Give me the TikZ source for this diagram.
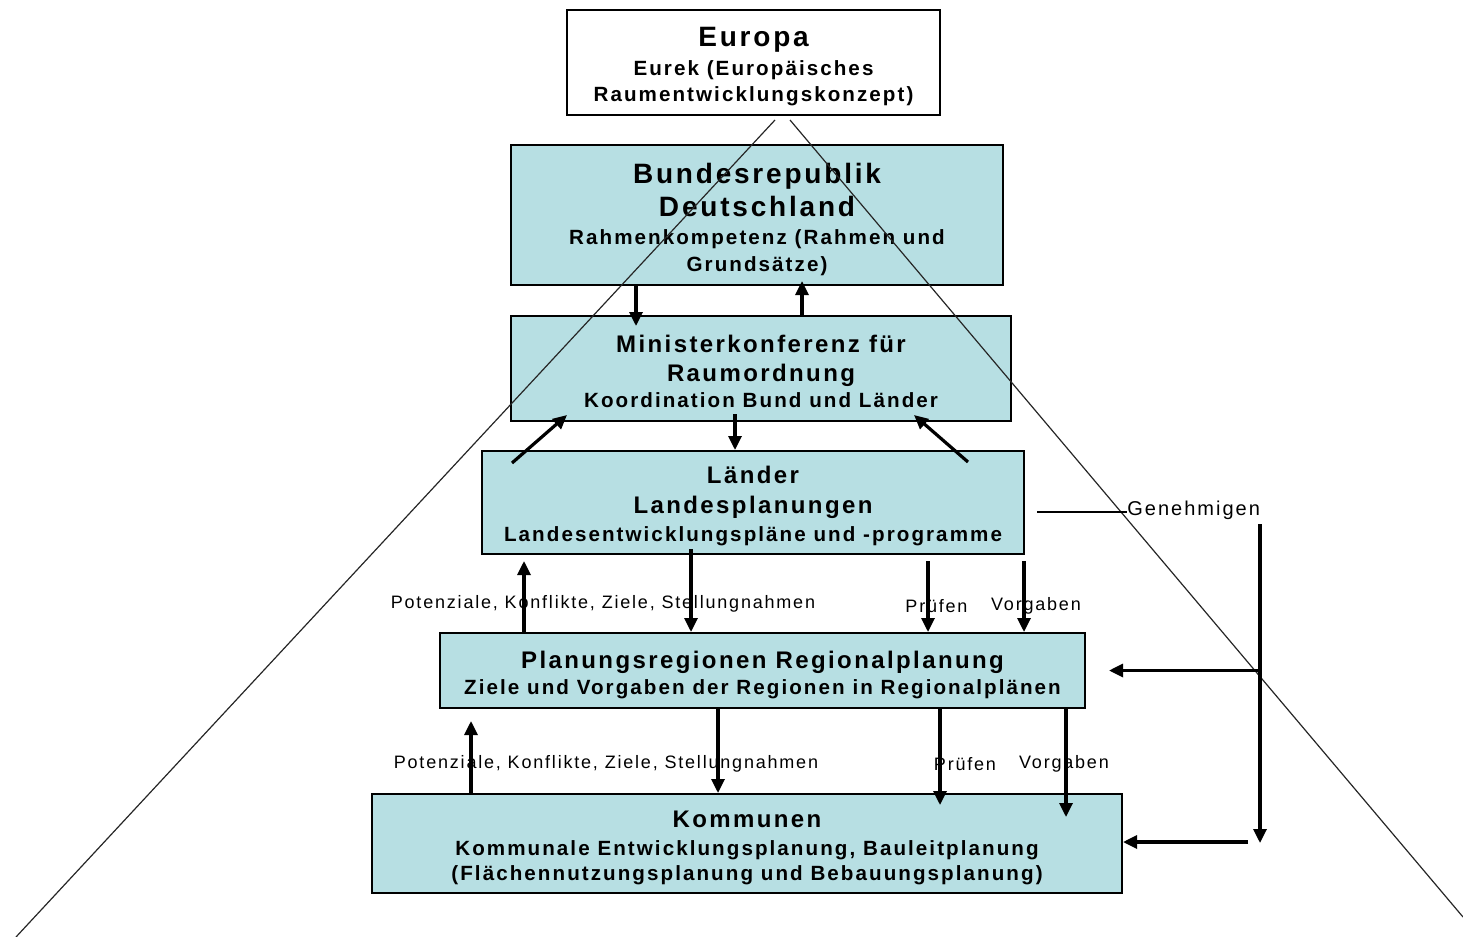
\documentclass[tikz,border=0pt]{standalone}
\usepackage{fontspec}
\setmainfont{Liberation Sans}[LetterSpace=10]
\usetikzlibrary{arrows.meta}
\definecolor{boxfill}{RGB}{183,223,227}
\newcommand\ttlA{\fontsize{14}{16.5}\selectfont\bfseries}
\newcommand\ttlB{\fontsize{12}{14.5}\selectfont\bfseries}
\newcommand\subt{\fontsize{10.3}{13.5}\selectfont\bfseries}
\newcommand\lstrut[1]{\vrule width 0pt height #1 depth 3pt\relax}
\newcommand\boxfont{\fontsize{10}{0pt}\selectfont\lineskip=0pt\relax\lineskiplimit=0pt\relax}
\begin{document}
\begin{tikzpicture}[x=0.5pt,y=-0.5pt,
  box/.style={draw=black, line width=1pt, fill=boxfill, inner sep=0pt, align=center, text=black,
    font=\boxfont},
  arr/.style={line width=1.6pt, -{Triangle[length=7pt,width=6.5pt]}},
  pyr/.style={line width=0.6pt, draw=black!85},
  lbl/.style={font=\fontsize{9}{11}\selectfont, inner sep=0pt, text=black}]
\useasboundingbox (0,0) rectangle (1463,937);

% boxes
\node[box, fill=white, minimum width=186.5pt, minimum height=52.5pt] (eu) at (753.5,62.5)
  {\lstrut{14.5pt}\ttlA Europa\\\lstrut{11.5pt}\subt Eurek (Europäisches\\\lstrut{10pt}\subt Raumentwicklungskonzept)};
\node[box, minimum width=246pt, minimum height=70pt] (bund) at (757,215)
  {\lstrut{15.5pt}\ttlA Bundesrepublik\\\lstrut{13.5pt}\ttlA Deutschland\\\lstrut{11pt}\subt Rahmenkompetenz (Rahmen und\\\lstrut{10.5pt}\subt Grundsätze)};
\node[box, minimum width=250pt, minimum height=52.5pt] (min) at (761,368.5)
  {\lstrut{14pt}\ttlB Ministerkonferenz für\\\lstrut{11.5pt}\ttlB Raumordnung\\\lstrut{10pt}\subt Koordination Bund und Länder};
\node[box, minimum width=271pt, minimum height=51.5pt] (lae) at (753,502.5)
  {\lstrut{13pt}\ttlB Länder\\\lstrut{12pt}\ttlB Landesplanungen\\\lstrut{11pt}\subt Landesentwicklungspläne und -programme};
\node[box, minimum width=322.5pt, minimum height=37.5pt] (pla) at (762.5,670.5)
  {\lstrut{14pt}\ttlB Planungsregionen Regionalplanung\\\lstrut{10pt}\subt Ziele und Vorgaben der Regionen in Regionalplänen};
\node[box, minimum width=375pt, minimum height=49.5pt] (kom) at (747,843.5)
  {\lstrut{13pt}\ttlB Kommunen\\\lstrut{11pt}\subt Kommunale Entwicklungsplanung, Bauleitplanung\\\lstrut{9.5pt}\subt (Flächennutzungsplanung und Bebauungsplanung)};

% pyramid lines
\coordinate (pl) at (775,120);
\coordinate (pr) at (790,120);
\coordinate (bl) at (16,937);
\coordinate (br) at (1463,917);
\draw[pyr] (pl) -- (bl);
\draw[pyr] (pr) -- (br);

% labels
\node[lbl] (pot1) at (603,604) {Potenziale, Konflikte, Ziele, Stellungnahmen};
\node[lbl] (pr1) at (936.5,606) {Prüfen};
\node[lbl] (vo1) at (1036,606) {Vorgaben};
\node[lbl] (pot2) at (606,764) {Potenziale, Konflikte, Ziele, Stellungnahmen};
\node[lbl] (pr2) at (965,764) {Prüfen};
\node[lbl] (vo2) at (1064,764) {Vorgaben};
\node[lbl, font=\fontsize{10}{12}\selectfont, anchor=west] (gen) at (1127,510) {Genehmigen};

% x positions
\coordinate (xa) at (636,0);
\coordinate (xb) at (802,0);
\coordinate (xc) at (735,0);
\coordinate (xd) at (691,0);
\coordinate (xe) at (524,0);
\coordinate (xf) at (928,0);
\coordinate (xg) at (1024,0);
\coordinate (xh) at (471,0);
\coordinate (xi) at (718,0);
\coordinate (xj) at (940,0);
\coordinate (xk) at (1066,0);

% arrows between levels
\draw[arr, shorten >=-5.5pt] (bund.south -| xa) -- (min.north -| xa);
\draw[arr, shorten >=-2.5pt] (min.north -| xb) -- (bund.south -| xb);
\draw[arr, shorten <=-4pt] (min.south -| xc) -- (lae.north -| xc);
\coordinate (d1s) at (512,463);
\coordinate (d1e) at (567,415);
\coordinate (d2s) at (968,462);
\coordinate (d2e) at (914,415);
\draw[arr] (d1s) -- (d1e);
\draw[arr] (d2s) -- (d2e);

\draw[arr, shorten <=-3pt] (lae.south -| xd) -- (pla.north -| xd);
\draw[arr, shorten >=3pt] (pla.north -| xe) -- (lae.south -| xe);
\draw[arr, shorten <=3pt] (lae.south -| xf) -- (pla.north -| xf);
\draw[arr, shorten <=3pt] (lae.south -| xg) -- (pla.north -| xg);

\draw[arr, shorten >=6pt] (kom.north -| xh) -- (pla.south -| xh);
\draw[arr] (pla.south -| xi) -- (kom.north -| xi);
\draw[arr, shorten >=-6pt] (pla.south -| xj) -- (kom.north -| xj);
\draw[arr, shorten >=-12pt] (pla.south -| xk) -- (kom.north -| xk);

% Genehmigen
\coordinate (g0) at (1037,512);
\draw[line width=0.8pt] (g0) -- (g0 -| gen.west);
\coordinate (v0) at (1260,524);
\coordinate (v1) at (1260,843);
\draw[arr] (v0) -- (v1);
\draw[arr, shorten >=11.5pt] (v0 |- pla.east) -- (pla.east);
\coordinate (hb) at (1248,842);
\draw[arr] (hb) -- (hb -| kom.east);
\end{tikzpicture}
\end{document}
